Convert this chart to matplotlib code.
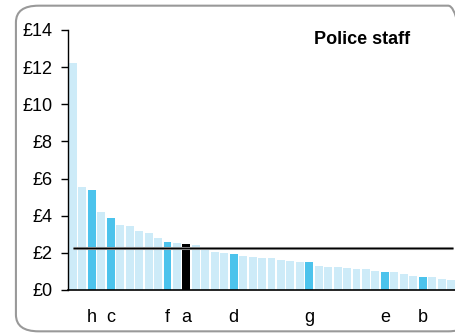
import matplotlib
matplotlib.use('Agg')
from matplotlib import pyplot as plt
from matplotlib.patches import FancyBboxPatch

plt.rcParams['font.family'] = ['Liberation Sans', 'DejaVu Sans']

# cost per head, sorted descending (£)
values = [12.2, 5.54, 5.38, 4.18, 3.87, 3.48, 3.43, 3.16, 3.05, 2.79,
          2.58, 2.52, 2.48, 2.41, 2.18, 2.04, 1.98, 1.93, 1.82, 1.77,
          1.72, 1.72, 1.61, 1.55, 1.50, 1.50, 1.29, 1.23, 1.23, 1.18,
          1.13, 1.13, 1.02, 0.97, 0.97, 0.86, 0.75, 0.70, 0.70, 0.59,
          0.54]
# highlighted forces: position in the sorted list -> label
highlight = {2: 'h', 4: 'c', 10: 'f', 12: 'a', 17: 'd', 25: 'g', 33: 'e', 37: 'b'}
selected = 12
average = 2.24

yticks = [0, 2, 4, 6, 8, 10, 12, 14]
yticklabels = ['£%d' % v for v in yticks]

light = '#cdebf8'
strong = '#4cc3ec'

fig = plt.figure(figsize=(4.55, 3.34), dpi=100)

# rounded frame
frame = FancyBboxPatch((0.035, 0.008), 1.0, 0.975, boxstyle='round,pad=0,rounding_size=0.05',
                       transform=fig.transFigure, facecolor='none', edgecolor='#999999',
                       linewidth=1.5, zorder=0)
fig.patches.append(frame)

ax = fig.add_axes([68 / 455, 1 - 290 / 334, 1 - 68 / 455, (290 - 30) / 334])
ax.patch.set_alpha(0)

colors = []
for i in range(len(values)):
    if i == selected:
        colors.append('black')
    elif i in highlight:
        colors.append(strong)
    else:
        colors.append(light)

x = list(range(len(values)))
ax.bar(x, values, width=0.84, color=colors, zorder=2)

ax.plot([-0.05, 40.2], [average, average], color='#999999', lw=2.2, zorder=3,
        solid_capstyle='butt')
ax.plot([-0.05, 40.2], [average, average], color='black', lw=1.0, zorder=4,
        solid_capstyle='butt')

ax.set_xlim(-0.53, 40.42)
ax.set_ylim(0, 14)
ax.set_yticks(yticks)
ax.set_yticklabels(yticklabels, fontsize=13)
ax.tick_params(axis='y', length=5, width=1, pad=6)

ax.set_xticks(list(highlight.keys()))
ax.set_xticklabels(list(highlight.values()), fontsize=13)
ax.tick_params(axis='x', length=0, pad=14)

for s in ['top', 'right']:
    ax.spines[s].set_visible(False)
ax.spines['left'].set_linewidth(1)
ax.spines['bottom'].set_linewidth(1.2)

fig.text(362 / 455, 1 - 39 / 334, 'Police staff', fontsize=13, fontweight='bold',
         ha='center', va='center')

plt.savefig('out.png', dpi=100)
